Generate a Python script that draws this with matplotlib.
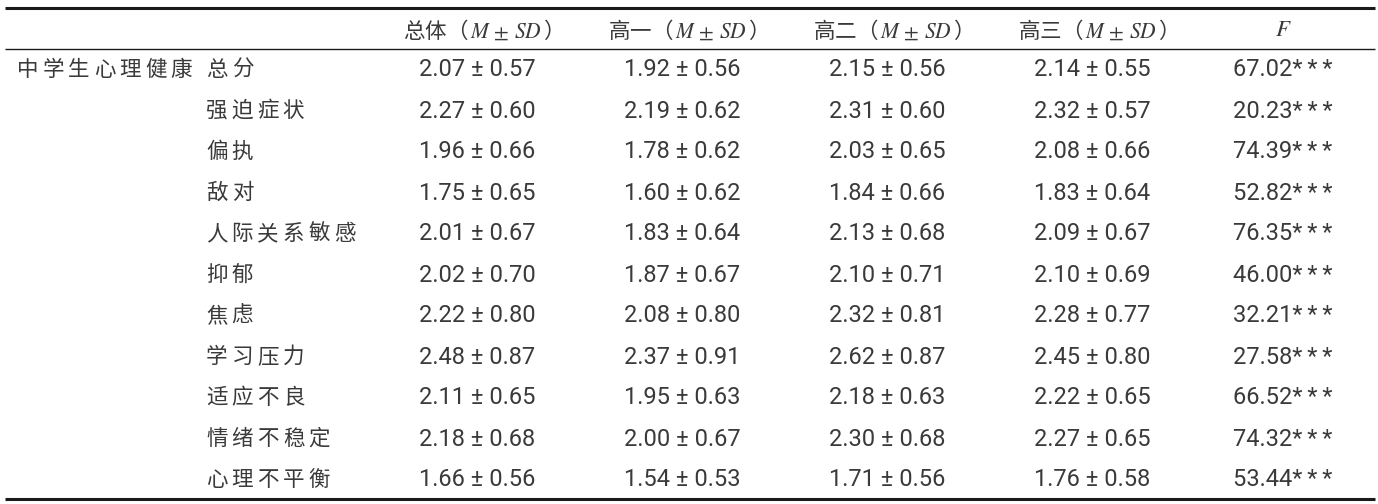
import matplotlib
matplotlib.use("Agg")
import matplotlib.pyplot as plt

plt.rcParams["mathtext.fontset"] = "stix"

# Data ------------------------------------------------------------------------
group_label = "中学生心理健康"
factors = ["总分", "强迫症状", "偏执", "敌对", "人际关系敏感", "抑郁",
           "焦虑", "学习压力", "适应不良", "情绪不稳定", "心理不平衡"]
col_heads = ["总体", "高一", "高二", "高三"]

total_m = [2.07, 2.27, 1.96, 1.75, 2.01, 2.02, 2.22, 2.48, 2.11, 2.18, 1.66]
total_sd = [0.57, 0.60, 0.66, 0.65, 0.67, 0.70, 0.80, 0.87, 0.65, 0.68, 0.56]
g1_m = [1.92, 2.19, 1.78, 1.60, 1.83, 1.87, 2.08, 2.37, 1.95, 2.00, 1.54]
g1_sd = [0.56, 0.62, 0.62, 0.62, 0.64, 0.67, 0.80, 0.91, 0.63, 0.67, 0.53]
g2_m = [2.15, 2.31, 2.03, 1.84, 2.13, 2.10, 2.32, 2.62, 2.18, 2.30, 1.71]
g2_sd = [0.56, 0.60, 0.65, 0.66, 0.68, 0.71, 0.81, 0.87, 0.63, 0.68, 0.56]
g3_m = [2.14, 2.32, 2.08, 1.83, 2.09, 2.10, 2.28, 2.45, 2.22, 2.27, 1.76]
g3_sd = [0.55, 0.57, 0.66, 0.64, 0.67, 0.69, 0.77, 0.80, 0.65, 0.65, 0.58]
f_vals = [67.02, 20.23, 74.39, 52.82, 76.35, 46.00, 32.21, 27.58, 66.52, 74.32, 53.44]
f_sig = "*\u2009*\u2009*"

# Layout ----------------------------------------------------------------------
W, H = 1378, 504
text_color = "#3a3a3a"
cjk = ["Noto Sans CJK SC", "DejaVu Sans"]
num_font = ["Roboto", "DejaVu Sans"]
fs_cjk = 15.5
fs_num = 17

col_x = [477, 682, 887, 1092, 1283]
head_y = 30
row_y0 = 70
row_dy = 41.0
pitch = 25.6

fig = plt.figure(figsize=(W / 100, H / 100), dpi=100)
ax = fig.add_axes([0, 0, 1, 1])
ax.set_xlim(0, W)
ax.set_ylim(H, 0)
ax.axis("off")


def spaced(x, y, s):
    """Draw CJK text with letter spacing, left aligned at x."""
    for i, ch in enumerate(s):
        ax.text(x + i * pitch, y, ch, family=cjk, fontweight="light",
                fontsize=fs_cjk, color=text_color, ha="left", va="center")


# rules
ax.hlines(8, 5, 1375, color="#1a1a1a", lw=2.2)
ax.hlines(49, 5, 1375, color="#1a1a1a", lw=1.0)
ax.hlines(499, 5, 1375, color="#1a1a1a", lw=2.2)

# header
for x, h in zip(col_x, col_heads):
    ax.text(x, head_y, h + r"（$\,M \,\pm\, SD\,$）", family=cjk,
            fontweight="light", fontsize=fs_cjk, color=text_color,
            ha="center", va="center")
ax.text(col_x[4], head_y, r"$F$", fontsize=16.5, color=text_color,
        ha="center", va="center")

# body
spaced(17, row_y0, group_label)
cols = [(total_m, total_sd), (g1_m, g1_sd), (g2_m, g2_sd), (g3_m, g3_sd)]
for i, name in enumerate(factors):
    y = row_y0 + i * row_dy
    spaced(206, y, name)
    for x, (m, sd) in zip(col_x, cols):
        ax.text(x, y, f"{m[i]:.2f} ± {sd[i]:.2f}", family=num_font,
                fontsize=fs_num, color=text_color, ha="center", va="center")
    ax.text(col_x[4], y, f"{f_vals[i]:.2f}{f_sig}", family=num_font,
            fontsize=fs_num, color=text_color, ha="center", va="center")

fig.savefig("out.png", dpi=100)
